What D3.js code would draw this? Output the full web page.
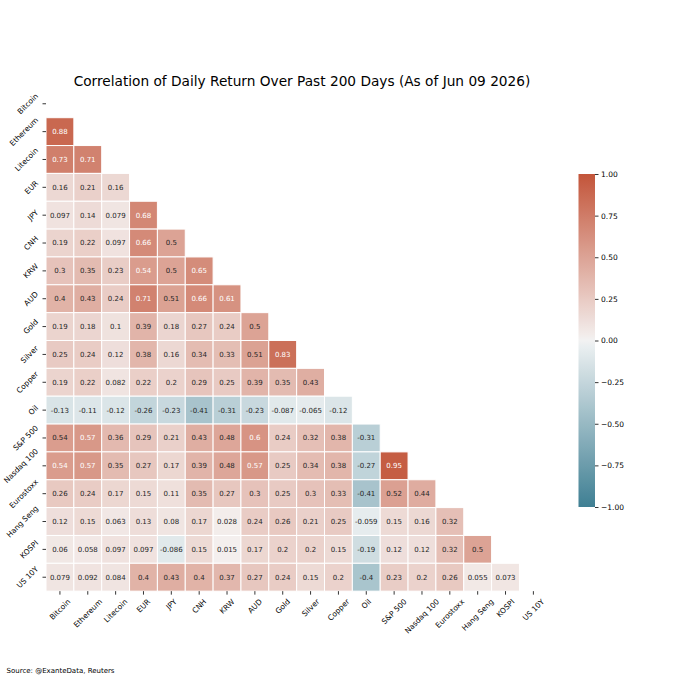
<!DOCTYPE html>
<html>
<head>
<meta charset="utf-8">
<script src="https://cdn.jsdelivr.net/npm/d3@7"></script>
<style>
  body { margin: 0; background: #fff; }
  svg { font-family: "DejaVu Sans", sans-serif; }
</style>
</head>
<body>
<svg id="chart" width="680" height="680"></svg>
<script>
// 資産名（行・列共通）
var names = ["Bitcoin", "Ethereum", "Litecoin", "EUR", "JPY", "CNH", "KRW", "AUD", "Gold",
    "Silver", "Copper", "Oil", "S&P 500", "Nasdaq 100", "Eurostoxx", "Hang Seng", "KOSPI", "US 10Y"];

// 下三角の相関係数（行ごと）
var lower = [
    [],
    [0.88],
    [0.73, 0.71],
    [0.16, 0.21, 0.16],
    [0.097, 0.14, 0.079, 0.68],
    [0.19, 0.22, 0.097, 0.66, 0.5],
    [0.3, 0.35, 0.23, 0.544, 0.5, 0.65],
    [0.4, 0.43, 0.24, 0.71, 0.51, 0.66, 0.61],
    [0.19, 0.18, 0.1, 0.39, 0.18, 0.27, 0.24, 0.5],
    [0.25, 0.24, 0.12, 0.38, 0.16, 0.34, 0.33, 0.51, 0.83],
    [0.19, 0.22, 0.082, 0.22, 0.2, 0.29, 0.25, 0.39, 0.35, 0.43],
    [-0.13, -0.11, -0.12, -0.26, -0.23, -0.41, -0.31, -0.23, -0.087, -0.065, -0.12],
    [0.537, 0.57, 0.36, 0.29, 0.21, 0.43, 0.48, 0.6, 0.24, 0.32, 0.38, -0.31],
    [0.544, 0.57, 0.35, 0.27, 0.17, 0.39, 0.48, 0.57, 0.25, 0.34, 0.38, -0.27, 0.95],
    [0.26, 0.24, 0.17, 0.15, 0.11, 0.35, 0.27, 0.3, 0.25, 0.3, 0.33, -0.41, 0.52, 0.44],
    [0.12, 0.15, 0.063, 0.13, 0.08, 0.17, 0.028, 0.24, 0.26, 0.21, 0.25, -0.059, 0.15, 0.16, 0.32],
    [0.06, 0.058, 0.097, 0.097, -0.086, 0.15, 0.015, 0.17, 0.2, 0.2, 0.15, -0.19, 0.12, 0.12, 0.32, 0.5],
    [0.079, 0.092, 0.084, 0.4, 0.43, 0.4, 0.37, 0.27, 0.24, 0.15, 0.2, -0.4, 0.23, 0.2, 0.26, 0.055, 0.073]
];

// カラーバーの目盛り
var barTicks = [-1, -0.75, -0.5, -0.25, 0, 0.25, 0.5, 0.75, 1];

var title = "Correlation of Daily Return Over Past 200 Days (As of Jun 09 2026)";
var source = "Source: @ExanteData, Reuters";

var svg = d3.select("#chart");
var cell = 27.85;
var mapLeft = 46, mapTop = 89.85;

var x = d3.scaleBand().domain(names).range([mapLeft, mapLeft + cell * names.length]);
var y = d3.scaleBand().domain(names).range([mapTop, mapTop + cell * names.length]);

// seaborn diverging_palette(220, 20) に近い色
var color = d3.scaleLinear()
    .domain([-1, -0.0078, 0, 0.0078, 1])
    .range(["#3f7f93", "#eff2f3", "#f2f2f2", "#f4f0ef", "#c3553a"])
    .interpolate(d3.interpolateRgb)
    .clamp(true);

function luminance(c) {
    var rgb = d3.rgb(c);
    var lin = [rgb.r, rgb.g, rgb.b].map(function (v) {
        v = v / 255;
        return v <= 0.03928 ? v / 12.92 : Math.pow((v + 0.055) / 1.055, 2.4);
    });
    return 0.2126 * lin[0] + 0.7152 * lin[1] + 0.0722 * lin[2];
}

var cells = [];
lower.forEach(function (row, i) {
    row.forEach(function (v, j) {
        cells.push({ row: names[i], col: names[j], value: v });
    });
});

svg.append("text")
    .attr("x", 302)
    .attr("y", 86)
    .attr("text-anchor", "middle")
    .attr("font-size", "13.7px")
    .attr("fill", "#000")
    .text(title);

var g = svg.append("g");
var fmt = d3.format(".2~g");

g.selectAll(".cell")
    .data(cells)
    .enter()
    .append("rect")
    .attr("class", "cell")
    .attr("x", function (d) { return x(d.col); })
    .attr("y", function (d) { return y(d.row); })
    .attr("width", x.bandwidth())
    .attr("height", y.bandwidth())
    .attr("fill", function (d) { return color(d.value); })
    .attr("stroke", "white")
    .attr("stroke-width", 1);

g.selectAll(".annot")
    .data(cells)
    .enter()
    .append("text")
    .attr("class", "annot")
    .attr("x", function (d) { return x(d.col) + x.bandwidth() / 2; })
    .attr("y", function (d) { return y(d.row) + y.bandwidth() / 2; })
    .attr("dy", "0.35em")
    .attr("text-anchor", "middle")
    .attr("font-size", "7px")
    .attr("fill", function (d) { return luminance(color(d.value)) > 0.408 ? "#262626" : "#ffffff"; })
    .text(function (d) { return fmt(d.value).replace("\u2212", "-"); });

// 縦軸
var yAxis = svg.append("g")
    .attr("transform", "translate(" + mapLeft + ",0)")
    .call(d3.axisLeft(y).tickSize(3.5).tickPadding(3));
yAxis.select(".domain").remove();
yAxis.selectAll("line").attr("stroke", "#000").attr("stroke-width", 0.8);
yAxis.selectAll("text")
    .attr("font-size", "7.5px")
    .attr("font-family", "DejaVu Sans")
    .attr("fill", "#000")
    .attr("text-anchor", "middle")
    .attr("dy", "0.35em")
    .attr("x", null)
    .attr("transform", function () {
        var len = this.getComputedTextLength();
        var w = (len + 7.5) * Math.SQRT1_2;
        return "translate(" + (-6.5 - w / 2) + ",0) rotate(-45)";
    });

// 横軸
var xAxis = svg.append("g")
    .attr("transform", "translate(0," + (mapTop + cell * names.length) + ")")
    .call(d3.axisBottom(x).tickSize(3.5).tickPadding(3));
xAxis.select(".domain").remove();
xAxis.selectAll("line").attr("stroke", "#000").attr("stroke-width", 0.8);
xAxis.selectAll("text")
    .attr("font-size", "7.5px")
    .attr("font-family", "DejaVu Sans")
    .attr("fill", "#000")
    .attr("text-anchor", "middle")
    .attr("dy", "0.35em")
    .attr("y", null)
    .attr("transform", function () {
        var len = this.getComputedTextLength();
        var h = (len + 7.5) * Math.SQRT1_2;
        return "translate(0," + (6.5 + h / 2) + ") rotate(-45)";
    });

// カラーバー
var barX = 578.5, barW = 16.5;
var barY = d3.scaleLinear().domain([-1, 1]).range([507, 174]);
var grad = svg.append("defs").append("linearGradient")
    .attr("id", "cbar")
    .attr("x1", 0).attr("y1", 1).attr("x2", 0).attr("y2", 0);
d3.range(0, 1.0001, 0.02).forEach(function (t) {
    grad.append("stop")
        .attr("offset", t)
        .attr("stop-color", color(-1 + 2 * t));
});
svg.append("rect")
    .attr("x", barX)
    .attr("y", barY(1))
    .attr("width", barW)
    .attr("height", barY(-1) - barY(1))
    .attr("fill", "url(#cbar)");

var cAxis = svg.append("g")
    .attr("transform", "translate(" + (barX + barW) + ",0)")
    .call(d3.axisRight(barY).tickValues(barTicks).tickFormat(d3.format(".2f")).tickSize(3.5).tickPadding(2.5));
cAxis.select(".domain").remove();
cAxis.selectAll("line").attr("stroke", "#000").attr("stroke-width", 0.8);
cAxis.selectAll("text")
    .attr("font-size", "7.5px")
    .attr("font-family", "DejaVu Sans")
    .attr("fill", "#000");

svg.append("text")
    .attr("x", 6.5)
    .attr("y", 673)
    .attr("font-size", "7px")
    .attr("fill", "#000")
    .text(source);
</script>
</body>
</html>
